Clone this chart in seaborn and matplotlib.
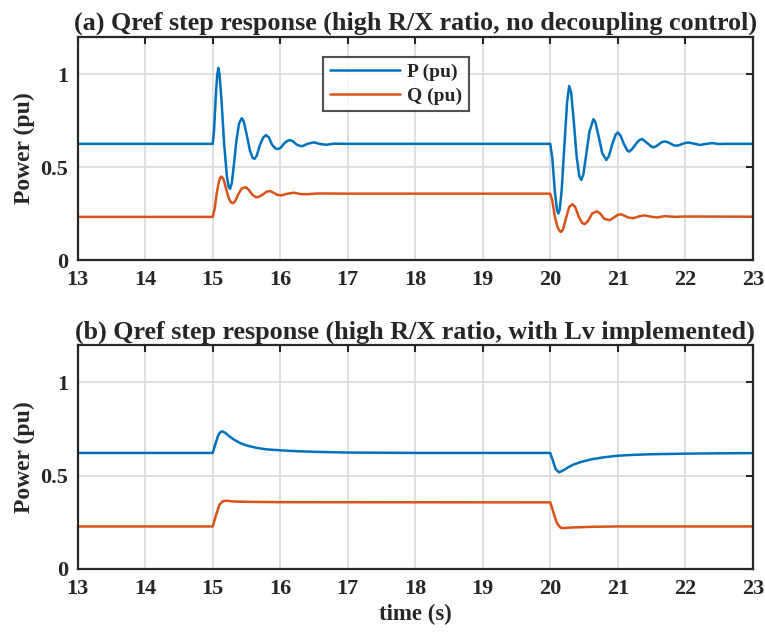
import pandas as pd
import seaborn as sns
import matplotlib
matplotlib.use("Agg")
import matplotlib.pyplot as plt

# Panel (a): no decoupling control
t_p_a = [13.0, 15.0, 15.02, 15.045, 15.065, 15.083, 15.10, 15.13, 15.17, 15.21, 15.235, 15.256,
         15.28, 15.31, 15.35, 15.39, 15.43, 15.46, 15.50, 15.55, 15.59, 15.62, 15.65, 15.70,
         15.75, 15.79, 15.83, 15.88, 15.93, 15.97, 16.01, 16.06, 16.11, 16.15, 16.19, 16.24,
         16.29, 16.33, 16.42, 16.50, 16.59, 16.68, 16.80, 17.0,
         20.0, 20.03, 20.07, 20.10, 20.12, 20.14, 20.17, 20.21, 20.25, 20.28, 20.31, 20.35,
         20.39, 20.43, 20.46, 20.49, 20.53, 20.58, 20.64, 20.67, 20.72, 20.77, 20.83, 20.87,
         20.92, 20.97, 21.0, 21.04, 21.09, 21.14, 21.17, 21.22, 21.27, 21.32, 21.36, 21.40,
         21.45, 21.50, 21.53, 21.57, 21.62, 21.66, 21.70, 21.74, 21.79, 21.83, 21.87, 21.91,
         21.96, 22.0, 22.05, 22.14, 22.22, 22.31, 22.40, 22.50, 22.60, 23.0]
p_a = [0.625, 0.625, 0.70, 0.88, 0.99, 1.034, 1.00, 0.86, 0.62, 0.45, 0.395, 0.383,
       0.41, 0.50, 0.64, 0.735, 0.763, 0.745, 0.68, 0.59, 0.55, 0.544, 0.56, 0.62,
       0.66, 0.672, 0.66, 0.62, 0.60, 0.597, 0.605, 0.628, 0.642, 0.645, 0.638, 0.622,
       0.614, 0.613, 0.627, 0.633, 0.624, 0.620, 0.626, 0.625,
       0.625, 0.55, 0.36, 0.27, 0.25, 0.27, 0.38, 0.62, 0.85, 0.936, 0.90, 0.74,
       0.56, 0.45, 0.431, 0.46, 0.56, 0.69, 0.758, 0.74, 0.66, 0.575, 0.538, 0.56,
       0.625, 0.675, 0.686, 0.67, 0.625, 0.59, 0.583, 0.60, 0.625, 0.645, 0.651, 0.64,
       0.625, 0.61, 0.606, 0.612, 0.626, 0.635, 0.638, 0.634, 0.625, 0.617, 0.615, 0.618,
       0.625, 0.63, 0.632, 0.625, 0.619, 0.625, 0.629, 0.624, 0.625, 0.625]

t_q_a = [13.0, 15.0, 15.03, 15.06, 15.09, 15.11, 15.13, 15.16, 15.20, 15.24, 15.27, 15.30,
         15.33, 15.38, 15.43, 15.49, 15.54, 15.59, 15.64, 15.68, 15.74, 15.80, 15.85, 15.90,
         15.96, 16.02, 16.11, 16.20, 16.30, 16.40, 16.55, 17.0,
         20.0, 20.03, 20.07, 20.11, 20.14, 20.16, 20.19, 20.23, 20.28, 20.33, 20.37, 20.42,
         20.47, 20.51, 20.56, 20.62, 20.69, 20.74, 20.80, 20.88, 20.94, 21.0, 21.05, 21.10,
         21.16, 21.23, 21.32, 21.40, 21.49, 21.58, 21.70, 21.85, 22.0, 23.0]
q_a = [0.232, 0.232, 0.28, 0.36, 0.42, 0.443, 0.449, 0.435, 0.38, 0.33, 0.31, 0.306,
       0.315, 0.355, 0.385, 0.392, 0.375, 0.35, 0.338, 0.339, 0.352, 0.368, 0.371, 0.362,
       0.35, 0.348, 0.357, 0.362, 0.355, 0.354, 0.358, 0.357,
       0.357, 0.32, 0.23, 0.175, 0.155, 0.151, 0.165, 0.22, 0.285, 0.30, 0.285, 0.235,
       0.20, 0.193, 0.21, 0.25, 0.262, 0.25, 0.222, 0.214, 0.228, 0.243, 0.246, 0.238,
       0.228, 0.225, 0.235, 0.24, 0.233, 0.229, 0.236, 0.232, 0.234, 0.233]

# Panel (b): with Lv implemented
t_p_b = [13.0, 15.0, 15.04, 15.08, 15.11, 15.14, 15.18, 15.25, 15.32, 15.40, 15.50, 15.65,
         15.80, 16.0, 16.25, 16.5, 17.0, 18.0, 20.0, 20.04, 20.08, 20.13, 20.20, 20.27,
         20.34, 20.45, 20.60, 20.80, 21.0, 21.25, 21.5, 22.0, 22.5, 23.0]
p_b = [0.622, 0.622, 0.67, 0.715, 0.733, 0.738, 0.731, 0.71, 0.692, 0.676, 0.662, 0.649,
       0.641, 0.636, 0.631, 0.628, 0.624, 0.622, 0.622, 0.58, 0.535, 0.518, 0.53, 0.546,
       0.559, 0.573, 0.587, 0.599, 0.607, 0.612, 0.615, 0.618, 0.620, 0.621]

t_q_b = [13.0, 15.0, 15.05, 15.10, 15.15, 15.2, 15.3, 15.5, 16.0, 20.0,
         20.05, 20.10, 20.15, 20.19, 20.3, 20.6, 21.0, 23.0]
q_b = [0.228, 0.228, 0.29, 0.345, 0.363, 0.366, 0.362, 0.36, 0.358, 0.357,
       0.30, 0.245, 0.222, 0.219, 0.222, 0.226, 0.228, 0.228]

titles = ["(a) Qref step response (high R/X ratio, no decoupling control)",
          "(b) Qref step response (high R/X ratio, with Lv implemented)"]
series_names = ["P (pu)", "Q (pu)"]
colors = {"P (pu)": "#0072BD", "Q (pu)": "#D95319"}


def long_frame(tp, p, tq, q):
    df_p = pd.DataFrame({"time": tp, "power": p, "series": series_names[0]})
    df_q = pd.DataFrame({"time": tq, "power": q, "series": series_names[1]})
    return pd.concat([df_p, df_q], ignore_index=True)


panels = [long_frame(t_p_a, p_a, t_q_a, q_a), long_frame(t_p_b, p_b, t_q_b, q_b)]

sns.set_style("white")
plt.rcParams["font.family"] = ["Liberation Serif", "DejaVu Serif"]
plt.rcParams["font.weight"] = "bold"

fig = plt.figure(figsize=(7.65, 6.32), dpi=100)
ax_top = fig.add_axes([0.1016, 0.5886, 0.8824, 0.3529])
ax_bot = fig.add_axes([0.1016, 0.0997, 0.8824, 0.3543])

for ax, df, title in zip([ax_top, ax_bot], panels, titles):
    sns.lineplot(data=df, x="time", y="power", hue="series", palette=colors,
                 estimator=None, sort=False, linewidth=1.8, ax=ax, legend=(ax is ax_top))
    ax.set_xlim(13, 23)
    ax.set_ylim(0, 1.2)
    ax.set_xticks(range(13, 24))
    ax.set_yticks([0, 0.5, 1])
    ax.set_yticklabels(["0", "0.5", "1"])
    ax.grid(True, color="#d9d9d9", linewidth=1.2)
    ax.set_axisbelow(True)
    ax.tick_params(direction="in", length=5, width=1.5, top=True, right=True,
                   labelsize=16, color="#262626", labelcolor="#262626", pad=7)
    for lab in ax.get_xticklabels() + ax.get_yticklabels():
        lab.set_fontweight("bold")
    for sp in ax.spines.values():
        sp.set_color("#262626")
        sp.set_linewidth(1.6)
    ax.set_title(title, fontsize=18.8, fontweight="bold", pad=5)
    ax.set_ylabel("Power (pu)", fontsize=17, fontweight="bold", labelpad=4)
    ax.set_xlabel("")

ax_bot.set_xlabel("time (s)", fontsize=16.5, fontweight="bold", labelpad=4)

leg = ax_top.legend(loc="upper left", bbox_to_anchor=(0.363, 0.912), borderaxespad=0,
                    frameon=True, fancybox=False, edgecolor="#262626",
                    handlelength=3.6, handletextpad=0.4, borderpad=0.35, labelspacing=0.3,
                    prop={"weight": "bold", "size": 14})
leg.get_frame().set_linewidth(1.5)

fig.savefig("out.png", dpi=100)
